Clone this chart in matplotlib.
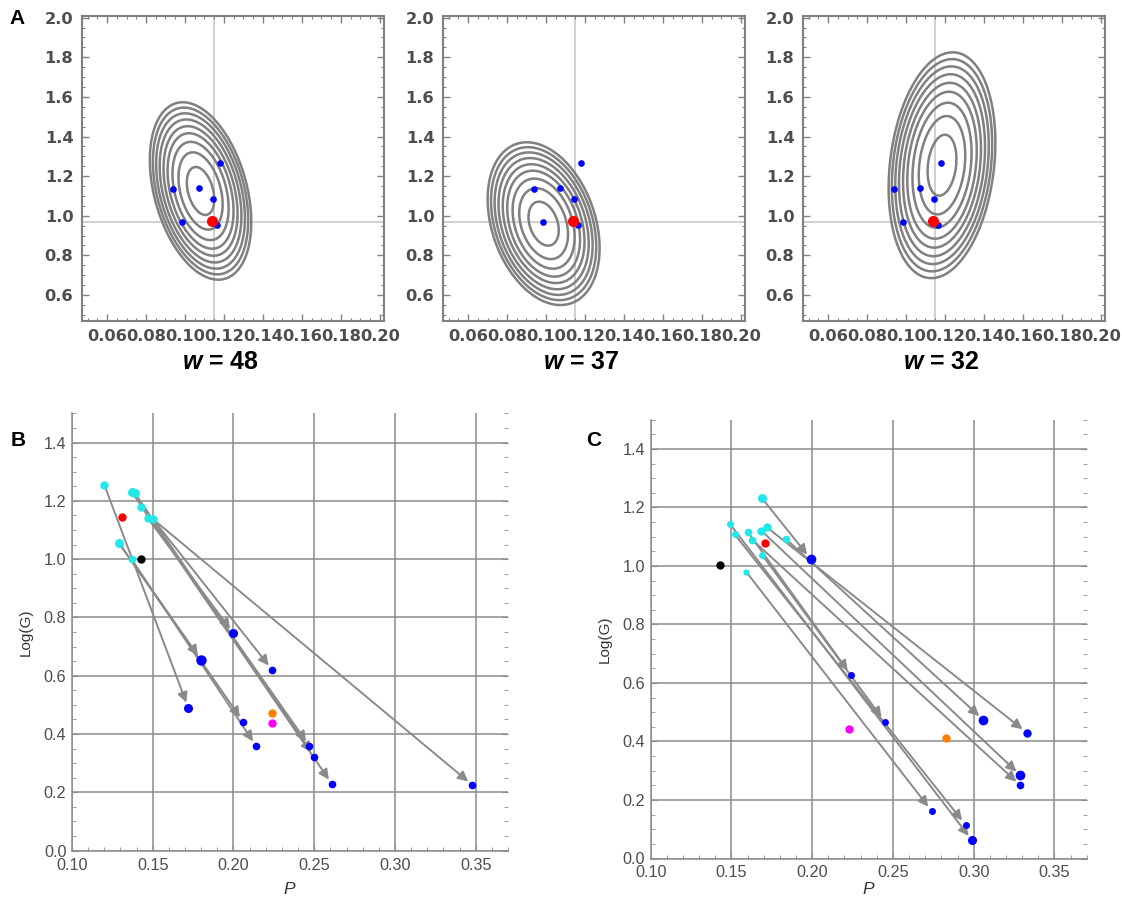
import numpy as np
import matplotlib
matplotlib.use('Agg')
import matplotlib.pyplot as plt
from matplotlib.ticker import MultipleLocator, FormatStrFormatter

plt.rcParams['font.family'] = ['Liberation Sans', 'DejaVu Sans']
plt.rcParams['mathtext.fontset'] = 'custom'
plt.rcParams['mathtext.bfit'] = 'Liberation Sans:bold:italic'
plt.rcParams['mathtext.it'] = 'Liberation Sans:italic'

# ---- panel A data ----
w_values = [48, 37, 32]
obs_p = [0.094, 0.1074, 0.1142, 0.118, 0.0987, 0.1166]
obs_g = [1.136, 1.142, 1.083, 1.268, 0.966, 0.951]
ref_p, ref_g = 0.114, 0.973
cross_p, cross_g = 0.115, 0.966

# likelihood ellipses: centre, spread and correlation per w
ell_p = [0.108, 0.0988, 0.1185]
ell_g = [1.125, 0.960, 1.255]
sd_p = [0.00703, 0.00776, 0.0074]
sd_g = [0.121, 0.111, 0.154]
rho = [-0.35, -0.30, 0.20]
levels = [1.0, 2.6, 4.2, 5.8, 7.3, 8.9, 10.5, 12.1, 13.7]

# ---- panel B data ----
cyan_b_p = [0.120, 0.137, 0.139, 0.143, 0.147, 0.150, 0.129, 0.137]
cyan_b_g = [1.255, 1.231, 1.226, 1.180, 1.140, 1.138, 1.056, 0.999]
blue_b_p = [0.200, 0.180, 0.224, 0.172, 0.206, 0.214, 0.247, 0.250, 0.261, 0.348]
blue_b_g = [0.745, 0.654, 0.620, 0.490, 0.442, 0.359, 0.359, 0.322, 0.228, 0.225]
src_b = [4, 6, 5, 0, 6, 7, 3, 2, 1, 5]
extra_b = {'red': (0.131, 1.143), 'black': (0.143, 1.000),
           '#ff8000': (0.224, 0.471), '#ff00ff': (0.224, 0.437)}

# ---- panel C data ----
cyan_c_p = [0.169, 0.149, 0.152, 0.160, 0.163, 0.1685, 0.172, 0.184, 0.169, 0.159]
cyan_c_g = [1.231, 1.144, 1.108, 1.117, 1.089, 1.121, 1.132, 1.091, 1.038, 0.981]
blue_c_p = [0.199, 0.224, 0.245, 0.306, 0.333, 0.329, 0.329, 0.274, 0.295, 0.299]
blue_c_g = [1.024, 0.627, 0.467, 0.474, 0.430, 0.284, 0.250, 0.162, 0.115, 0.062]
src_c = [0, 3, 8, 7, 6, 5, 4, 9, 2, 1]
extra_c = {'red': (0.1707, 1.078), 'black': (0.143, 1.002),
           '#ff00ff': (0.2227, 0.443), '#ff8000': (0.283, 0.411)}

# marker sizes (points)
cyan_b_ms = [6, 6.5, 6.5, 6, 6, 6, 6.5, 5.5]
blue_b_ms = [6.5, 7.5, 5.5, 6.5, 5.5, 5.5, 5.5, 5.5, 5.5, 5.5]
cyan_c_ms = [6.5, 5, 5, 5.5, 5.5, 6, 6, 5.5, 5, 4.5]
blue_c_ms = [7, 5, 5, 7, 6, 7, 5.5, 5, 5, 6.5]

W, H = 1122, 899
fig = plt.figure(figsize=(W / 100, H / 100), dpi=100)

frame_col = '#808080'
text_col = '#4d4d4d'

# ---------------- panel A ----------------
a_lefts = [81.7, 442.7, 802.7]
pp, gg = np.meshgrid(np.linspace(0.045, 0.205, 500), np.linspace(0.45, 2.05, 500))
for i in range(3):
    ax = fig.add_axes([a_lefts[i] / W, 1 - 320.7 / H, 302 / W, 305 / H])
    dx = (pp - ell_p[i]) / sd_p[i]
    dy = (gg - ell_g[i]) / sd_g[i]
    q = (dx**2 - 2 * rho[i] * dx * dy + dy**2) / (1 - rho[i]**2)
    ax.contour(pp, gg, q, levels=levels, colors='#808080', linewidths=1.8)
    ax.axvline(cross_p, color='#c8c8c8', lw=1.2, zorder=0)
    ax.axhline(cross_g, color='#c8c8c8', lw=1.2, zorder=0)
    ax.plot(obs_p, obs_g, 'o', color='#0000ff', ms=4.8, mec='none', zorder=3)
    ax.plot([ref_p], [ref_g], 'o', color='#ff0000', ms=8, mec='none', zorder=4)
    ax.set_xlim(0.047, 0.202)
    ax.set_ylim(0.47, 2.01)
    ax.xaxis.set_major_locator(MultipleLocator(0.02))
    ax.xaxis.set_minor_locator(MultipleLocator(0.005))
    ax.yaxis.set_major_locator(MultipleLocator(0.2))
    ax.yaxis.set_minor_locator(MultipleLocator(0.05))
    ax.xaxis.set_major_formatter(FormatStrFormatter('%.2f'))
    ax.yaxis.set_major_formatter(FormatStrFormatter('%.1f'))
    ax.tick_params(which='both', direction='in', top=True, right=True, color=frame_col)
    ax.tick_params(which='major', length=5, width=1.0, pad=6)
    ax.tick_params(which='minor', length=2.5, width=0.8)
    for lab in ax.get_xticklabels() + ax.get_yticklabels():
        lab.set_fontfamily('DejaVu Sans')
        lab.set_fontweight('bold')
        lab.set_fontsize(11.7)
        lab.set_color(text_col)
    for s in ax.spines.values():
        s.set_color(frame_col)
        s.set_linewidth(1.5)
    ax.text(0.46, -0.135, r'$\mathbfit{w}$' + f' = {w_values[i]}', transform=ax.transAxes,
            ha='center', va='center', fontsize=18, fontweight='bold')

fig.text(9 / W, 1 - 19 / H, 'A', fontsize=15, fontweight='bold', ha='left', va='center')


# ---------------- panels B and C ----------------
def arrow_panel(ax, cp, cg, bp, bg, src, extra, cms, bms, p_y):
    for j in range(len(bp)):
        k = src[j]
        ax.annotate('', xy=(bp[j], bg[j]), xytext=(cp[k], cg[k]),
                    arrowprops=dict(arrowstyle='-|>', color='#8a8a8a', lw=1.4,
                                    mutation_scale=15, shrinkA=0, shrinkB=4),
                    zorder=2)
    for j in range(len(cp)):
        ax.plot(cp[j], cg[j], 'o', color='#22e8e8', ms=cms[j], mec='none', zorder=3)
    for j in range(len(bp)):
        ax.plot(bp[j], bg[j], 'o', color='#0000ff', ms=bms[j], mec='none', zorder=4)
    for col, (x, y) in extra.items():
        ax.plot(x, y, 'o', color=col, ms=6, mec='none', zorder=4)
    ax.set_xlim(0.10, 0.37)
    ax.set_ylim(0.0, 1.5)
    ax.xaxis.set_major_locator(MultipleLocator(0.05))
    ax.xaxis.set_minor_locator(MultipleLocator(0.01))
    ax.yaxis.set_major_locator(MultipleLocator(0.2))
    ax.yaxis.set_minor_locator(MultipleLocator(0.05))
    ax.xaxis.set_major_formatter(FormatStrFormatter('%.2f'))
    ax.yaxis.set_major_formatter(FormatStrFormatter('%.1f'))
    ax.grid(True, which='major', color='#8c8c8c', lw=1.1)
    ax.set_axisbelow(True)
    ax.spines['top'].set_visible(False)
    ax.spines['right'].set_visible(False)
    for s in ['left', 'bottom']:
        ax.spines[s].set_color('#8c8c8c')
        ax.spines[s].set_linewidth(1.1)
    ax.tick_params(which='both', direction='in', right=True, color='#8c8c8c',
                   labelsize=11.7, labelcolor=text_col)
    ax.tick_params(axis='x', which='major', length=4, pad=5)
    ax.tick_params(axis='y', which='major', length=4, pad=4)
    ax.tick_params(which='minor', length=3)
    ax.text(0.5, p_y, '$P$', transform=ax.transAxes, ha='center', va='center',
            fontsize=12.5, color='#333333')
    ax.set_ylabel('Log(G)', fontsize=11, color='#333333', labelpad=8)


axB = fig.add_axes([72 / W, 1 - 850.6 / H, 436 / W, 437.2 / H])
arrow_panel(axB, cyan_b_p, cyan_b_g, blue_b_p, blue_b_g, src_b, extra_b,
            cyan_b_ms, blue_b_ms, -0.088)
axC = fig.add_axes([650.7 / W, 1 - 858.5 / H, 436 / W, 438.8 / H])
arrow_panel(axC, cyan_c_p, cyan_c_g, blue_c_p, blue_c_g, src_c, extra_c,
            cyan_c_ms, blue_c_ms, -0.070)

fig.text(18 / W, 1 - 441 / H, 'B', fontsize=15, fontweight='bold', ha='center', va='center')
fig.text(594 / W, 1 - 441 / H, 'C', fontsize=15, fontweight='bold', ha='center', va='center')

fig.savefig('out.png', dpi=100)
